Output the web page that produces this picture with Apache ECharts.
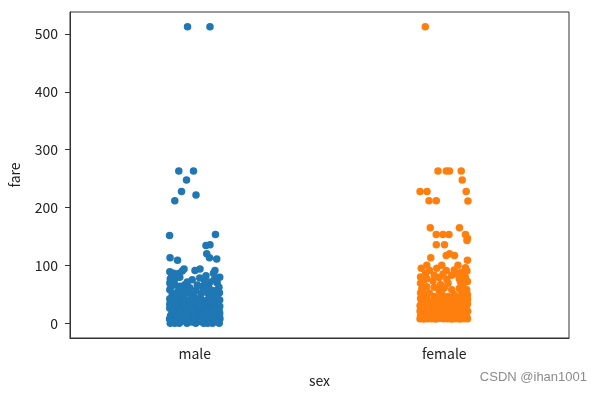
<!DOCTYPE html>
<html>
<head>
<meta charset="utf-8">
<script src="https://cdn.jsdelivr.net/npm/echarts@6/dist/echarts.min.js"></script>
<style>html,body{margin:0;padding:0;background:#fff;}#c{width:603px;height:393px;}</style>
</head>
<body>
<div id="c"></div>
<script>
var categories = ['male', 'female'];
var yTicks = [0, 100, 200, 300, 400, 500];

// [jitter offset from category centre, fare]
var maleStrip = [
  [-0.029,512.33],[0.061,512.33],[-0.064,263],[-0.005,263],[-0.033,247.52],[-0.053,227.53],[0.005,221.78],[-0.080,211.5],
  [-0.101,151.55],[0.083,153.46],[0.061,135.63],[0.045,134.5],[0.048,120],[0.059,113.28],[0.088,110.88],[-0.099,113.28],[-0.069,108.9],
  [-0.043,93.5],[0.001,91.08],[0.021,93.5],[0.081,91.08],[0.075,86.5],[0.100,79.2],[-0.092,82.17],[-0.078,77.29],[-0.098,76.73],
  [-0.060,79.2],[0.045,81.86],[0.020,77.96],[-0.010,75.25],[0.062,71],[0.090,69.55],[-0.100,69.3],[-0.080,66.6],[-0.040,66.6],
  [0.030,63.36],[-0.020,61.18],[0.097,61.98],[0.005,57],[0.070,56.5],[-0.100,57.98],[-0.065,56.5],[0.050,53.1],[0.099,52.55],
  [-0.035,52],[0.025,50.5],[-0.090,50],[0.080,47.1],[-0.055,46.9],[-0.005,46.9],[0.055,42.4],[-0.100,42.4],[0.100,40.13],
  [-0.075,39.69],[0.030,39.6],[-0.030,39.6],[-0.085,86.5],[-0.100,89.1],
  [-0.098,0],[-0.062,0],[-0.031,0],[0.004,0],[0.036,0],[0.071,0],[0.098,0],[-0.080,0],[0.052,0],
  [-0.101,7.25],[-0.086,7.9],[-0.072,8.05],[-0.058,7.75],[-0.044,7.25],[-0.021,8.05],[-0.008,7.9],[0.012,7.75],[0.028,8.05],
  [0.044,7.25],[0.061,7.9],[0.077,8.05],[0.090,7.75],[0.101,7.85],[-0.035,7.05],[0.020,6.5],
  [-0.066,10.5],[-0.040,9.5],[0.015,10.5],[0.040,9.5],[0.087,10.5],[-0.092,11.5],
  [-0.097,13],[-0.079,13],[-0.052,13],[-0.033,13],[-0.011,13],[0.006,13],[0.024,13],[0.052,13],[0.068,13],[0.083,13],[0.099,13],
  [-0.092,16.1],[-0.070,18],[-0.045,20.5],[-0.021,16.1],[0.010,21],[0.031,18],[0.058,15.5],[0.080,20.2],[0.100,17.8],[-0.005,19],
  [-0.100,26],[-0.081,26.55],[-0.058,24.15],[-0.037,26],[-0.012,26.55],[0.013,26],[0.037,27.72],[0.062,26],[0.086,26.29],[0.097,24.15],
  [-0.089,30.5],[-0.064,29.7],[-0.025,31],[0.003,30],[0.047,31],[0.074,30.7],[0.100,29.13],[0.025,33.5],[-0.045,33.5],
  [-0.098,35.5],[-0.074,34.65],[-0.050,37],[-0.017,36.75],[0.021,35.5],[0.054,35],[0.088,36.75],[-0.005,38.5],[0.075,38],
  [-0.090,3.5],[-0.048,4],[-0.012,2],[0.022,3],[0.060,4],[0.088,3],
  [-0.075,15],[-0.030,11],[0.000,9],[0.033,14.5],[0.070,11],[-0.010,23],[-0.060,21.5],[0.045,23],[0.075,24],[-0.085,21],
  [-0.040,28],[0.020,29],[0.085,32],[-0.100,32.5],[-0.070,40],[0.060,38.5],[0.010,42],[-0.045,43],[0.090,45],[-0.085,45.5],
  [-0.015,50],[0.070,50],[-0.075,52],[0.035,56],[-0.045,59],[0.085,56],[-0.095,63],[-0.060,64],[0.010,66],[0.055,64],
  [-0.030,71],[0.040,73],[-0.085,72],[0.080,77],[-0.065,86],[-0.050,90]
];

var femaleStrip = [
  [-0.076,512.33],[-0.025,263],[0.008,263],[0.021,263],[0.068,263],[0.072,247.52],[-0.097,227.53],[-0.069,227.53],[0.088,227.53],
  [-0.061,211.5],[-0.032,211.5],[0.095,211.34],[-0.056,164.87],[0.061,164.87],[-0.032,153.46],[-0.005,153.46],[0.019,153.46],
  [0.085,153.46],[0.093,146.52],[-0.032,135.63],[0.001,135.63],[0.091,142.8],[0.021,120],[0.041,117],[0.008,117],[-0.054,113.28],
  [0.093,108.9],
  [-0.092,95],[-0.059,91],[0.008,91],[0.068,88],[0.091,90],[-0.075,86.5],[-0.040,83],[0.030,83],[0.050,86],[-0.095,80],
  [-0.020,79],[0.085,79],[-0.070,77],[0.010,76],[0.060,77],[-0.045,73],[0.093,72],[-0.095,69],[0.015,69],[-0.015,67],
  [0.075,66],[-0.070,63],[0.000,61],[0.060,60],[-0.090,59],[0.090,58],[-0.020,56],[-0.060,52],[0.070,52],[-0.095,52],
  [-0.010,51],[0.040,49],[0.093,49],[-0.075,47],[-0.040,46],[0.015,46],[0.060,44],
  [-0.097,7.75],[-0.082,7.25],[-0.066,7.88],[-0.050,7.75],[-0.034,7.23],[-0.018,7.93],[-0.002,7.75],[0.014,7.88],[0.030,7.25],
  [0.046,7.75],[0.062,7.23],[0.078,7.88],[0.093,7.75],
  [-0.090,10.5],[-0.058,9.83],[-0.026,10.5],[0.006,11.13],[0.038,10.5],[0.070,9.35],[0.090,11.24],
  [-0.095,13],[-0.074,15.25],[-0.042,13],[-0.010,14.45],[0.022,13],[0.054,15.5],[0.086,13],[-0.060,16.7],[0.070,16.1],
  [-0.097,21],[-0.080,23.25],[-0.052,19.5],[-0.020,23],[0.012,21],[0.044,22.36],[0.076,23.45],[0.094,20.53],[-0.035,24.15],
  [-0.090,26],[-0.066,26.25],[-0.010,26],[0.026,27.72],[0.060,26],[0.088,26.55],[-0.040,27.9],
  [-0.097,30],[-0.070,31.39],[-0.045,29.13],[-0.015,33],[0.010,31],[0.040,30.5],[0.070,32.5],[0.093,33],[-0.025,31.27],
  [-0.085,39.4],[-0.055,37],[-0.030,39],[0.005,39.69],[0.030,36.75],[0.055,41.58],[0.085,39],[-0.095,42.5],[0.093,41.58],[-0.010,41.58],
  [-0.075,12],[-0.042,9],[0.000,12],[0.045,9],[0.080,12.5],[-0.088,17],[-0.028,18],[0.030,17.5],[0.080,18],[-0.065,24],
  [0.000,24],[0.035,25],[-0.092,34],[-0.050,34],[0.020,35],[0.065,36],[-0.070,43],[-0.025,45],[0.040,43],[0.080,47],
  [-0.088,55],[0.030,58],[-0.040,62],[0.065,71],[-0.080,75],[-0.005,85],[0.040,92],[-0.030,95],[0.085,96],[-0.010,100],
  [0.055,100],[-0.070,100]
];

var colors = ['#1f77b4', '#ff7f0e'];
var font = '"Noto Sans CJK SC", "DejaVu Sans", sans-serif';
var axisColor = '#333';

function toPoints(list, idx) {
  return list.map(function (p) { return [idx + p[0], p[1]]; });
}

var chart = echarts.init(document.getElementById('c'), null, {renderer: 'canvas'});
chart.setOption({
  animation: false,
  backgroundColor: '#fff',
  grid: {left: 68, right: 34, top: 12, bottom: 54, show: true, borderColor: axisColor, borderWidth: 1, backgroundColor: 'transparent'},
  xAxis: [
    {
      type: 'category', data: categories, boundaryGap: true,
      axisLine: {onZero: false, lineStyle: {color: axisColor, width: 1}},
      axisTick: {alignWithLabel: true, length: 5, lineStyle: {color: axisColor}},
      axisLabel: {color: '#222', fontSize: 14, fontFamily: font, margin: 9},
      name: 'sex', nameLocation: 'middle', nameGap: 36,
      nameTextStyle: {color: '#222', fontSize: 14, fontFamily: font},
      splitLine: {show: false}
    },
    {type: 'value', min: -0.5, max: 1.5, show: false, axisLine: {onZero: false}, splitLine: {show: false}}
  ],
  yAxis: {
    type: 'value', min: -25.6, max: 537.9,
    axisLine: {show: true, onZero: false, lineStyle: {color: axisColor, width: 1}},
    axisTick: {show: true, length: 5, customValues: yTicks, lineStyle: {color: axisColor}},
    axisLabel: {color: '#222', fontSize: 14, fontFamily: font, margin: 12, customValues: yTicks},
    splitLine: {show: false},
    name: 'fare', nameLocation: 'middle', nameGap: 48, nameRotate: 90,
    nameTextStyle: {color: '#222', fontSize: 14, fontFamily: font}
  },
  series: [
    {type: 'scatter', xAxisIndex: 1, data: toPoints(maleStrip, 0), symbolSize: 7.5, itemStyle: {color: colors[0], opacity: 1}},
    {type: 'scatter', xAxisIndex: 1, data: toPoints(femaleStrip, 1), symbolSize: 7.5, itemStyle: {color: colors[1], opacity: 1}}
  ],
  graphic: [{
    type: 'text', right: 16, top: 371,
    style: {text: 'CSDN @ihan1001', fill: '#8c8c8c', font: '13px "Liberation Sans", Arial, sans-serif'}
  }]
});
</script>
</body>
</html>
